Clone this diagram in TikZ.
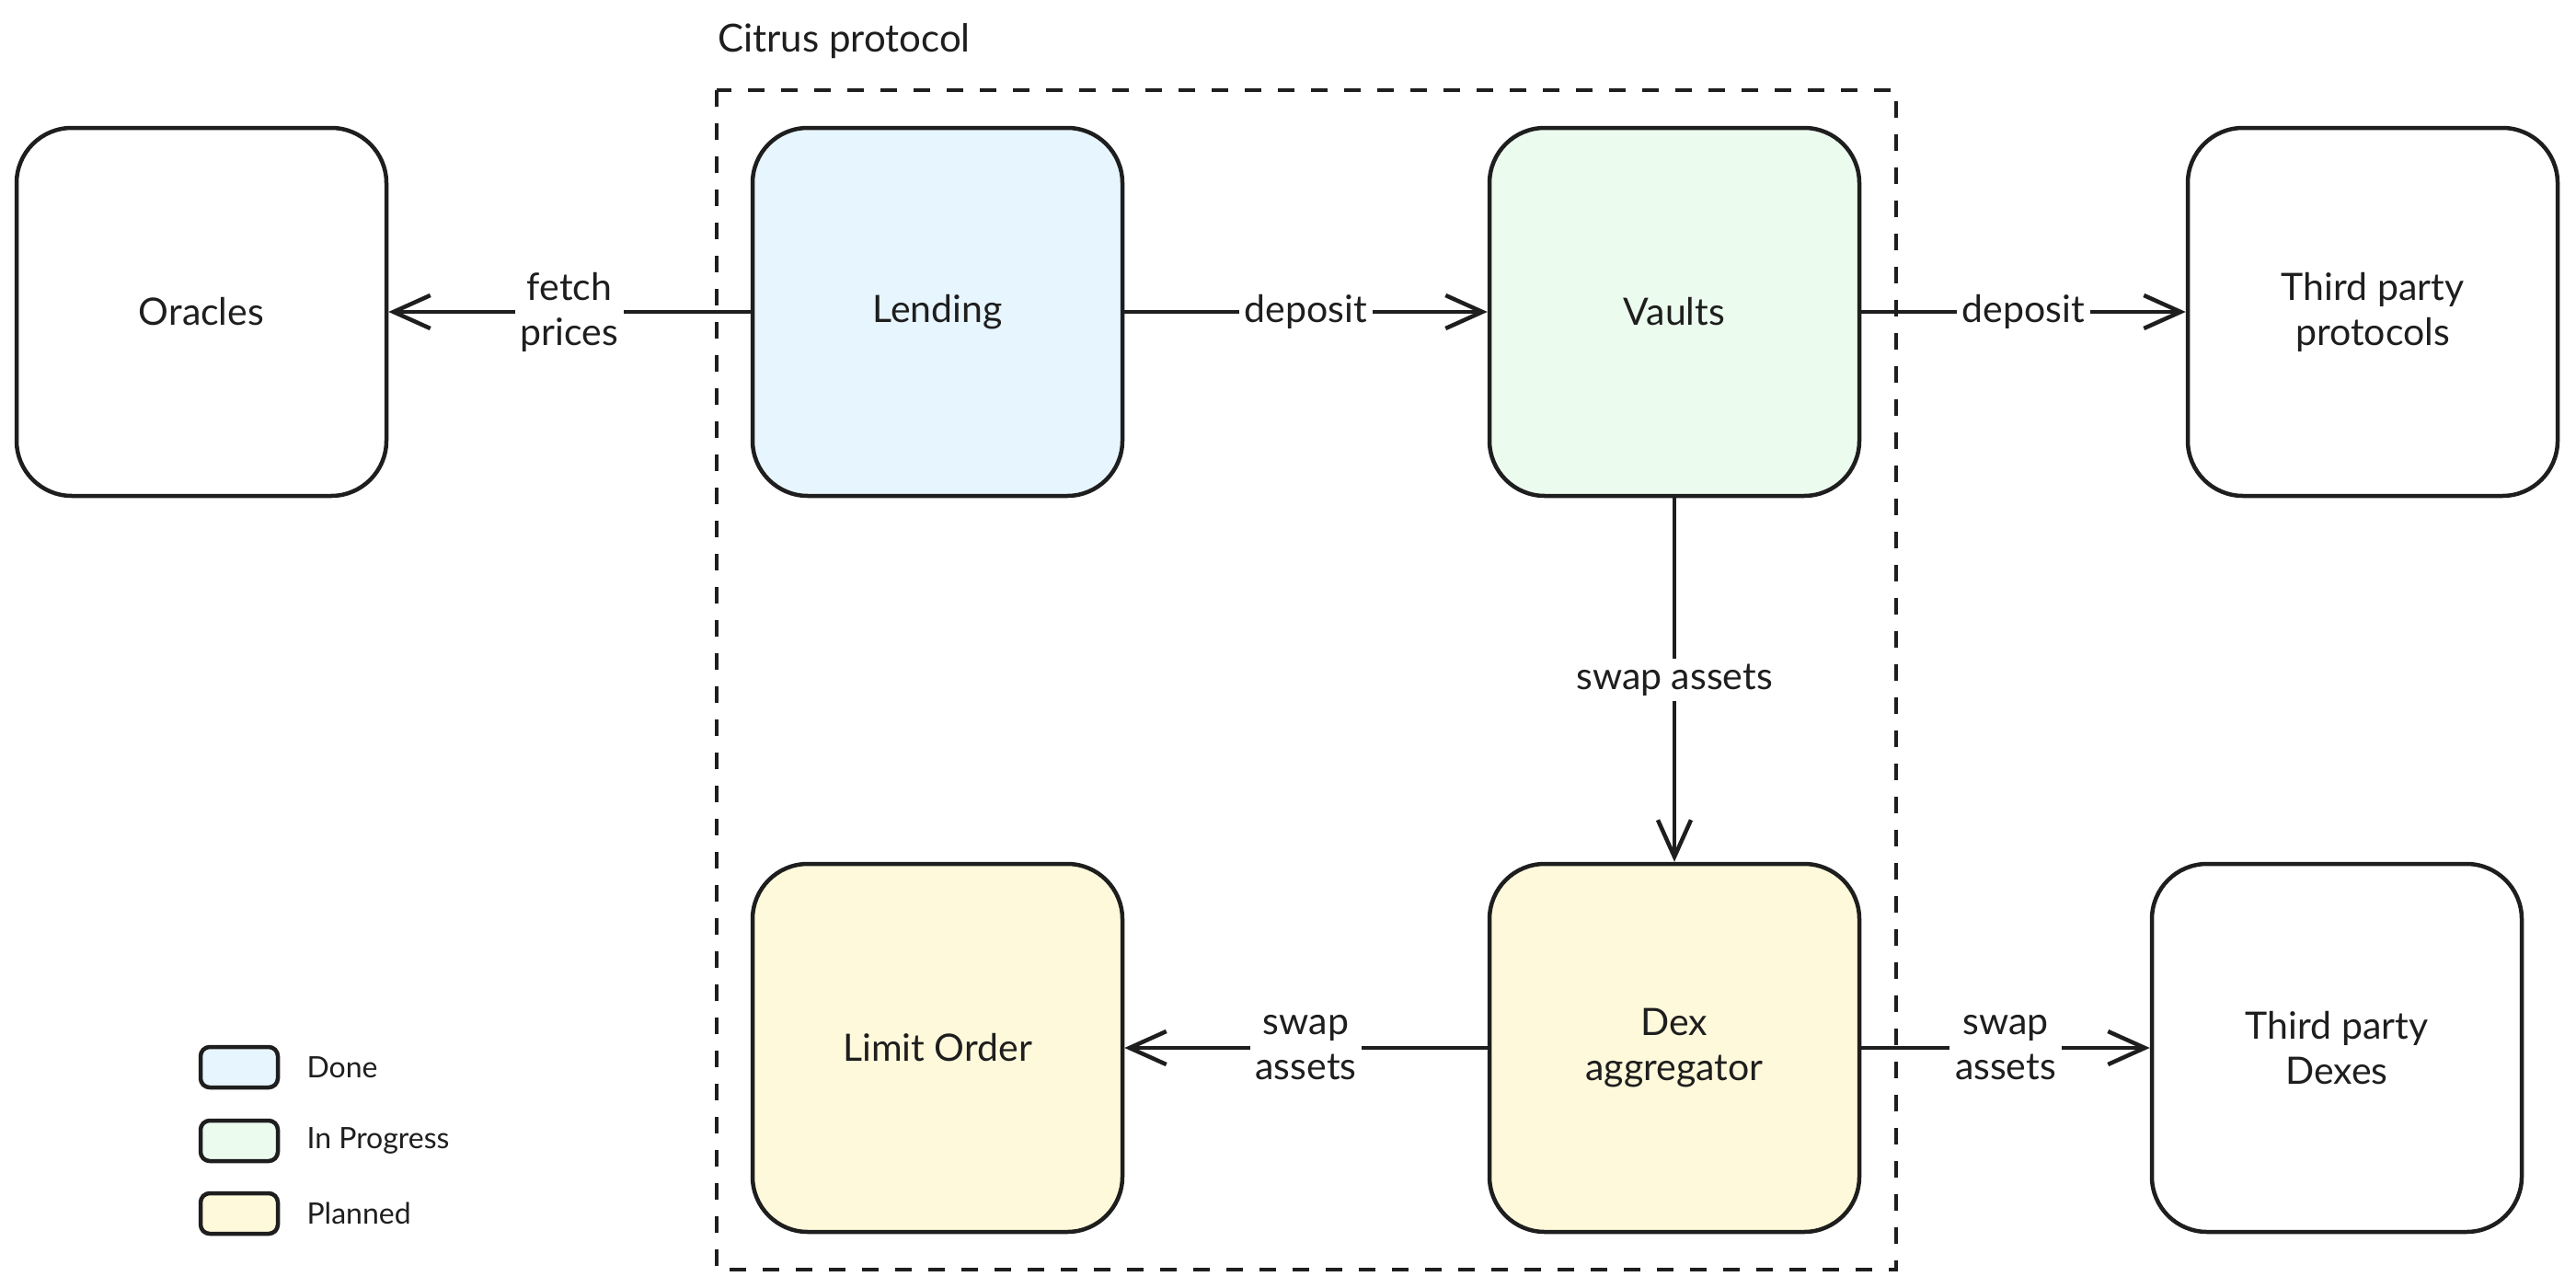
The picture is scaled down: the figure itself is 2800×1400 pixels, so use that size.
\documentclass[tikz,border=0pt]{standalone}
\usepackage{fontspec}
\setmainfont{Lato}
\usetikzlibrary{arrows.meta}
\definecolor{ink}{HTML}{1E1E1E}
\definecolor{doneblue}{HTML}{E7F5FF}
\definecolor{progreen}{HTML}{EBFBEE}
\definecolor{planyellow}{HTML}{FFF9DB}
\tikzset{
  box/.style={draw=ink, line width=4.5pt, rounded corners=60pt, minimum width=402pt, minimum height=400pt, align=center, font=\fontsize{41}{49}\selectfont, text=ink},
  legbox/.style={draw=ink, line width=4.5pt, rounded corners=10pt, minimum width=84pt, minimum height=44pt},
  legtext/.style={anchor=west, font=\fontsize{32}{38}\selectfont, text=ink},
  arr/.style={draw=ink, line width=4.5pt, -{Straight Barb[length=40pt,width=36pt]}},
  lbl/.style={fill=white, inner sep=6pt, align=center, font=\fontsize{41}{49}\selectfont, text=ink},
  frame/.style={draw=ink, line width=4pt, dash pattern=on 18pt off 18pt}
}
\begin{document}
\begin{tikzpicture}[x=1pt,y=-1pt]
\fill[white] (0,0) rectangle (2800,1400);
\useasboundingbox (0,0) rectangle (2800,1400);

% frame
\draw[frame] (779,98) rectangle (2061,1380);
\node[anchor=base west, font=\fontsize{42}{50}\selectfont, text=ink, inner sep=0pt] (title) at (780,56) {Citrus protocol};

% boxes
\node[box] (oracles) at (219,339) {Oracles};
\node[box, fill=doneblue] (lending) at (1019,339) {Lending};
\node[box, fill=progreen] (vaults) at (1820,339) {Vaults};
\node[box] (tpp) at (2579,339) {Third party\\protocols};
\node[box, fill=planyellow] (limit) at (1019,1139) {Limit Order};
\node[box, fill=planyellow] (dex) at (1820,1139) {Dex\\aggregator};
\node[box] (tpd) at (2540,1139) {Third party\\Dexes};

% connectors
\draw[arr] (lending.west) -- node[lbl, midway] {fetch\\prices} (oracles.east);
\draw[arr] (lending.east) -- node[lbl, midway] {deposit} (vaults.west);
\draw[arr] (vaults.east) -- node[lbl, midway] {deposit} (tpp.west);
\draw[arr] (vaults.south) -- node[lbl, midway] {swap assets} (dex.north);
\draw[arr] (dex.west) -- node[lbl, midway] {swap\\assets} (limit.east);
\draw[arr] (dex.east) -- node[lbl, midway] {swap\\assets} (tpd.west);

% legend
\node[legbox, fill=doneblue] (l1) at (260,1160) {};
\node[legbox, fill=progreen] (l2) at (260,1240) {};
\node[legbox, fill=planyellow] (l3) at (260,1319) {};
\node[legtext] (t1) at (330,1160) {Done};
\node[legtext] (t2) at (330,1240) {In Progress};
\node[legtext] (t3) at (330,1319) {Planned};
\end{tikzpicture}
\end{document}
